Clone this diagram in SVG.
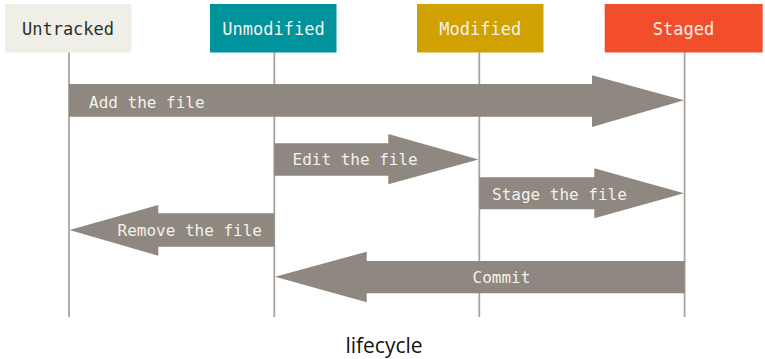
<svg xmlns="http://www.w3.org/2000/svg" width="765" height="359" viewBox="0 0 765 359">
  <style>
    .state-label { font-family: "DejaVu Sans Mono", "Liberation Mono", monospace; font-size: 17px; text-anchor: middle; }
    .light { fill: #f3f1ea; }
    .dark { fill: #2e2e2e; }
    .lifeline { stroke: #a9a39c; stroke-width: 1.8; fill: none; }
    .arrow { fill: #8f8880; }
    .arrow-label { font-family: "DejaVu Sans Mono", "Liberation Mono", monospace; font-size: 16px; fill: #f3f1ea; }
    .caption { font-family: "Open Sans", "Noto Sans", sans-serif; font-size: 21px; fill: #111; text-anchor: middle; }
  </style>
  <rect width="765" height="359" fill="#ffffff"/>

  <!-- lifelines under each state -->
  <g id="lifelines">
    <line class="lifeline" x1="69" y1="52" x2="69" y2="317"/>
    <line class="lifeline" x1="274.3" y1="52" x2="274.3" y2="317"/>
    <line class="lifeline" x1="479.3" y1="52" x2="479.3" y2="317"/>
    <line class="lifeline" x1="684.6" y1="52" x2="684.6" y2="317"/>
  </g>

  <!-- file states -->
  <g id="untracked">
    <rect x="5" y="4" width="126.5" height="48.5" fill="#f0efe7"/>
    <text class="state-label dark" x="68" y="35">Untracked</text>
  </g>
  <g id="unmodified">
    <rect x="210" y="4" width="126.5" height="48.5" fill="#00939b"/>
    <text class="state-label light" x="273.5" y="35">Unmodified</text>
  </g>
  <g id="modified">
    <rect x="417" y="4" width="126.5" height="48.5" fill="#d0a100"/>
    <text class="state-label light" x="480.3" y="35">Modified</text>
  </g>
  <g id="staged">
    <rect x="604.7" y="4" width="158" height="48.5" fill="#f34e2b"/>
    <text class="state-label light" x="683.5" y="35">Staged</text>
  </g>

  <!-- transitions -->
  <g id="connectors">
    <g id="add-the-file">
      <polygon class="arrow" points="69,84 592,84 592,75.3 684,100.3 592,127 592,116.7 69,116.7"/>
      <text class="arrow-label" x="89" y="108">Add the file</text>
    </g>
    <g id="edit-the-file">
      <polygon class="arrow" points="274.3,143.3 388.3,143.3 388.3,134 478.5,159.5 388.3,184.3 388.3,175.7 274.3,175.7"/>
      <text class="arrow-label" x="292.5" y="165">Edit the file</text>
    </g>
    <g id="stage-the-file">
      <polygon class="arrow" points="479.3,177.3 594.3,177.3 594.3,168.3 684,193.3 594.3,218.3 594.3,209.3 479.3,209.3"/>
      <text class="arrow-label" x="492" y="200">Stage the file</text>
    </g>
    <g id="remove-the-file">
      <polygon class="arrow" points="274.3,213.3 158.3,213.3 158.3,205 69.5,230 158.3,255.7 158.3,246.7 274.3,246.7"/>
      <text class="arrow-label" x="117.5" y="235.5">Remove the file</text>
    </g>
    <g id="commit">
      <polygon class="arrow" points="684.6,261 366.7,261 366.7,251.7 275,276.7 366.7,302.3 366.7,293.3 684.6,293.3"/>
      <text class="arrow-label" x="472.5" y="283">Commit</text>
    </g>
  </g>

  <text class="caption" x="384" y="353">lifecycle</text>
</svg>
